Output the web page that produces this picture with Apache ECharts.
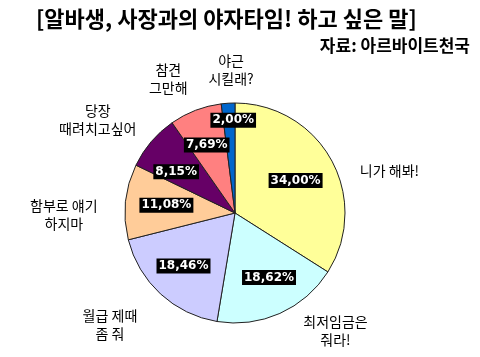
<!DOCTYPE html>
<html>
<head>
<meta charset="utf-8">
<script src="https://cdn.jsdelivr.net/npm/echarts@6/dist/echarts.min.js"></script>
<style>html,body{margin:0;padding:0;background:#fff}#c{width:480px;height:357px}</style>
</head>
<body>
<div id="c"></div>
<script>
const titleText = '[알바생, 사장과의 야자타임! 하고 싶은 말]';
const sourceText = '자료: 아르바이트천국';
const categories = ['니가 해봐!', '최저임금은\n줘라!', '월급 제때\n좀 줘', '함부로 얘기\n하지마', '당장\n때려치고싶어', '참견\n그만해', '야근\n시킬래?'];
const values = [34.00, 18.62, 18.46, 11.08, 8.15, 7.69, 2.00];
const colors = ['#FFFF99', '#CCFFFF', '#CCCCFF', '#FFCC99', '#660066', '#FF8080', '#0066CC'];

// label nudges (pixels)
const innerDx = [-6, 3, 0, 7, -1, -1, 3];
const innerDy = [4, -5, -3, 0, 8, 3, -17];
const outerDx = [16, 36, -18, -14, -17, -10, 6];
const outerDy = [34, -27, -5, 18, 9.5, 13, 14];

const center = [235, 213];
const chart = echarts.init(document.getElementById('c'), null, {renderer: 'canvas'});

const mainData = categories.map((c, i) => ({name: c, value: values[i], itemStyle: {color: colors[i]}}));
const plainData = categories.map((c, i) => ({name: c, value: values[i]}));

chart.setOption({
  animation: false,
  backgroundColor: '#fff',
  title: [
    {text: titleText, left: 36, top: 8, padding: 0,
     textStyle: {fontFamily: 'Noto Sans CJK KR', fontWeight: 'bold', fontSize: 22, color: '#000'}},
    {text: sourceText, right: 10, top: 37, padding: 0,
     textStyle: {fontFamily: 'Noto Sans CJK KR', fontWeight: 'bold', fontSize: 17, color: '#000'}}
  ],
  series: [
    {
      type: 'pie', center: center, radius: [0, 110], startAngle: 90, clockwise: true,
      silent: true, avoidLabelOverlap: false,
      label: {show: false}, labelLine: {show: false},
      itemStyle: {borderColor: '#222', borderWidth: 1},
      data: mainData
    },
    {
      type: 'pie', center: center, radius: [36, 110], startAngle: 90, clockwise: true,
      silent: true, avoidLabelOverlap: false,
      itemStyle: {color: 'transparent', borderWidth: 0},
      label: {
        show: true, position: 'inside',
        formatter: p => p.value.toFixed(2).replace('.', ',') + '%',
        fontFamily: 'DejaVu Sans', fontWeight: 'bold', fontSize: 12, lineHeight: 13,
        color: '#fff', backgroundColor: '#000', padding: [1, 2, 1, 2]
      },
      labelLine: {show: false},
      labelLayout: p => ({dx: innerDx[p.dataIndex], dy: innerDy[p.dataIndex]}),
      data: plainData
    },
    {
      type: 'pie', center: center, radius: [0, 310], startAngle: 90, clockwise: true,
      silent: true, avoidLabelOverlap: false, z: 1,
      itemStyle: {color: 'transparent', borderWidth: 0},
      label: {
        show: true, position: 'inside', formatter: '{b}',
        fontFamily: 'Noto Sans CJK KR', fontSize: 14, lineHeight: 18, color: '#000', align: 'center'
      },
      labelLine: {show: false},
      labelLayout: p => ({dx: outerDx[p.dataIndex], dy: outerDy[p.dataIndex]}),
      data: plainData
    }
  ]
});
</script>
</body>
</html>
